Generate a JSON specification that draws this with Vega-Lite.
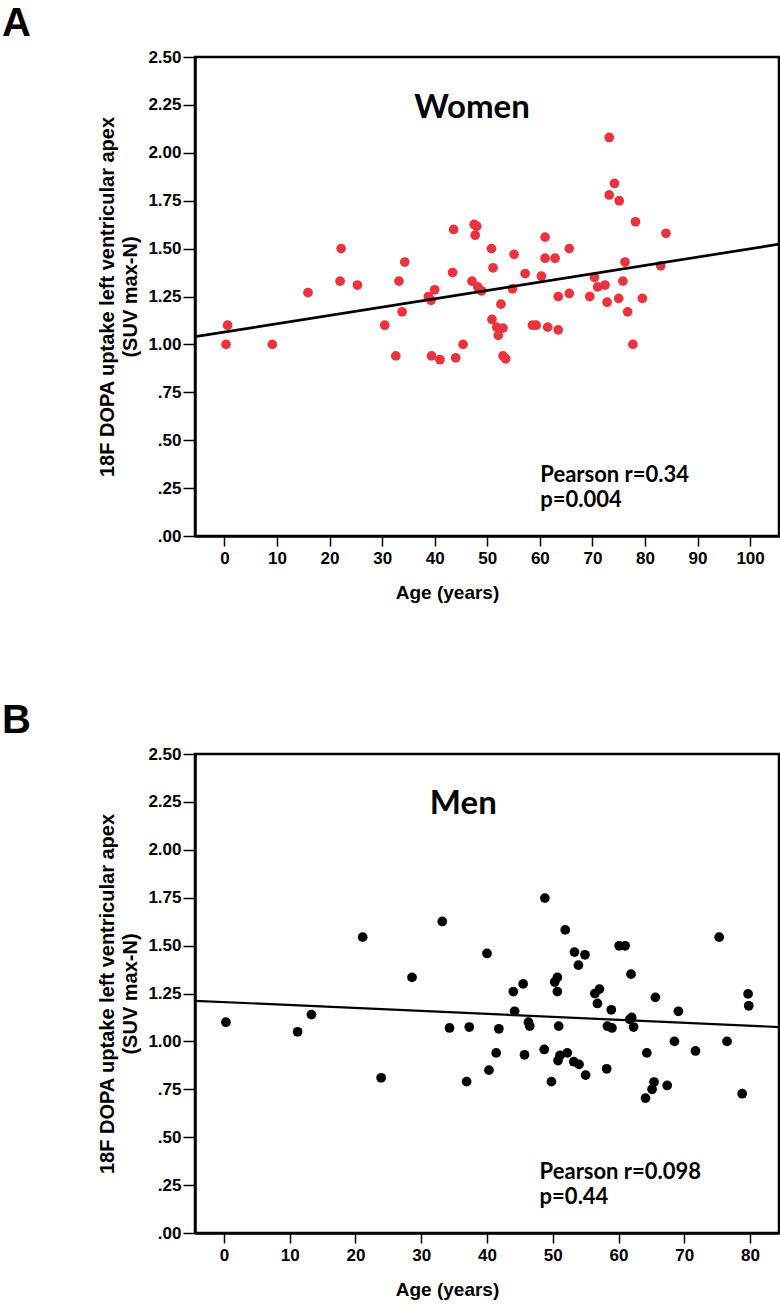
{
  "$schema": "https://vega.github.io/schema/vega-lite/v6.json",
  "padding": {"left": 0, "top": 2, "right": 0, "bottom": 0},
  "background": "white",
  "bounds": "flush",
  "spacing": 218,
  "config": {
    "view": {"stroke": "black", "strokeWidth": 2.5},
    "axis": {"domainColor": "black", "domainWidth": 2.5, "tickColor": "black", "tickWidth": 1.5, "grid": false,
      "labelFont": "Liberation Sans", "labelFontWeight": "bold", "labelFontSize": 17, "labelColor": "black",
      "titleFont": "Liberation Sans", "titleFontWeight": "bold", "titleFontSize": 19, "titleColor": "black"},
    "title": {"font": "Liberation Sans", "fontWeight": "bold", "fontSize": 40, "color": "black", "anchor": "start", "frame": "group", "dx": -193, "baseline": "alphabetic", "offset": 0}
  },
  "datasets": {
    "women": [
      {"age":0.6,"v":1.10},{"age":0.3,"v":1.00},{"age":9.1,"v":1.00},{"age":15.9,"v":1.27},{"age":22.2,"v":1.50},{"age":22.0,"v":1.33},{"age":25.3,"v":1.31},{"age":30.5,"v":1.10},{"age":32.6,"v":0.94},{"age":33.2,"v":1.33},{"age":34.3,"v":1.43},{"age":33.8,"v":1.17},{"age":38.8,"v":1.25},{"age":39.3,"v":1.23},{"age":40.0,"v":1.285},{"age":39.4,"v":0.94},{"age":41.0,"v":0.92},{"age":43.6,"v":1.60},{"age":43.4,"v":1.375},{"age":44.0,"v":0.93},{"age":45.4,"v":1.00},{"age":47.5,"v":1.626},{"age":48.0,"v":1.617},{"age":47.7,"v":1.57},{"age":47.1,"v":1.33},{"age":48.2,"v":1.30},{"age":48.9,"v":1.28},{"age":50.8,"v":1.50},{"age":51.1,"v":1.40},{"age":52.6,"v":1.21},{"age":50.9,"v":1.13},{"age":51.8,"v":1.09},{"age":53.0,"v":1.085},{"age":52.1,"v":1.047},{"age":53.0,"v":0.94},{"age":53.5,"v":0.925},{"age":54.8,"v":1.29},{"age":55.1,"v":1.47},{"age":57.2,"v":1.37},{"age":58.6,"v":1.10},{"age":59.3,"v":1.10},{"age":60.3,"v":1.356},{"age":61.0,"v":1.56},{"age":61.0,"v":1.45},{"age":62.9,"v":1.45},{"age":61.5,"v":1.09},{"age":63.5,"v":1.076},{"age":63.5,"v":1.25},{"age":65.6,"v":1.50},{"age":65.6,"v":1.266},{"age":69.5,"v":1.25},{"age":70.4,"v":1.35},{"age":71.0,"v":1.30},{"age":72.4,"v":1.31},{"age":72.8,"v":1.22},{"age":73.2,"v":2.08},{"age":73.2,"v":1.78},{"age":74.2,"v":1.84},{"age":75.1,"v":1.75},{"age":75.0,"v":1.24},{"age":75.8,"v":1.33},{"age":76.2,"v":1.43},{"age":76.7,"v":1.17},{"age":77.7,"v":1.00},{"age":78.2,"v":1.64},{"age":79.5,"v":1.24},{"age":83.0,"v":1.41},{"age":84.0,"v":1.58}
    ],
    "men": [
      {"age":0.3,"v":1.10},{"age":11.2,"v":1.05},{"age":13.3,"v":1.14},{"age":21.1,"v":1.544},{"age":23.9,"v":0.81},{"age":28.6,"v":1.334},{"age":33.2,"v":1.626},{"age":34.3,"v":1.07},{"age":37.3,"v":1.075},{"age":36.9,"v":0.79},{"age":40.0,"v":1.459},{"age":41.4,"v":0.94},{"age":41.8,"v":1.066},{"age":40.3,"v":0.85},{"age":44.0,"v":1.26},{"age":44.2,"v":1.157},{"age":45.5,"v":1.30},{"age":46.3,"v":1.10},{"age":46.5,"v":1.08},{"age":45.7,"v":0.93},{"age":48.8,"v":1.748},{"age":48.7,"v":0.958},{"age":49.8,"v":0.79},{"age":50.7,"v":1.334},{"age":50.3,"v":1.31},{"age":50.7,"v":1.26},{"age":50.9,"v":1.08},{"age":51.1,"v":0.927},{"age":50.8,"v":0.90},{"age":52.2,"v":0.94},{"age":51.9,"v":1.582},{"age":53.3,"v":1.466},{"age":54.9,"v":1.452},{"age":53.9,"v":1.398},{"age":53.2,"v":0.894},{"age":54.0,"v":0.88},{"age":55.0,"v":0.824},{"age":56.4,"v":1.25},{"age":57.1,"v":1.273},{"age":56.8,"v":1.198},{"age":58.9,"v":1.165},{"age":58.3,"v":1.08},{"age":59.0,"v":1.07},{"age":58.2,"v":0.857},{"age":60.1,"v":1.499},{"age":61.0,"v":1.499},{"age":61.9,"v":1.351},{"age":62.0,"v":1.125},{"age":62.3,"v":1.075},{"age":61.7,"v":1.115},{"age":64.3,"v":0.94},{"age":65.6,"v":1.23},{"age":65.4,"v":0.788},{"age":65.1,"v":0.75},{"age":64.1,"v":0.704},{"age":67.4,"v":0.77},{"age":68.5,"v":1.00},{"age":69.1,"v":1.157},{"age":71.7,"v":0.95},{"age":75.3,"v":1.544},{"age":76.5,"v":1.00},{"age":78.8,"v":0.727},{"age":79.7,"v":1.248},{"age":79.8,"v":1.186}
    ],
    "womenFit": [{"age": -5.6, "v": 1.04}, {"age": 105.5, "v": 1.523}],
    "menFit": [{"age": -4.4, "v": 1.212}, {"age": 84.4, "v": 1.075}],
    "one": [{}]
  },
  "vconcat": [
    {
      "width": 584, "height": 479,
      "title": {"text": "A"},
      "layer": [
        {
          "data": {"name": "women"},
          "mark": {"type": "circle", "size": 95, "color": "#e8343c", "opacity": 1},
          "encoding": {
            "x": {"field": "age", "type": "quantitative", "scale": {"domain": [-5.6, 105.5], "nice": false, "zero": false},
              "axis": {"values": [0,10,20,30,40,50,60,70,80,90,100], "title": "Age (years)", "tickSize": 10, "labelPadding": 4,
                "titleX": 252, "titleY": 62, "titleBaseline": "alphabetic", "titleAlign": "center"}},
            "y": {"field": "v", "type": "quantitative", "scale": {"domain": [0, 2.5], "nice": false},
              "axis": {"values": [0,0.25,0.5,0.75,1,1.25,1.5,1.75,2,2.25,2.5], "tickSize": 12, "labelPadding": 2,
                "labelExpr": "datum.value < 1 ? substring(format(datum.value, '.2f'), 1) : format(datum.value, '.2f')",
                "title": ["18F DOPA uptake left ventricular apex", "(SUV max-N)"], "titleLineHeight": 23, "titleFontSize": 20,
                "titleX": -88, "titleY": 239.5, "titleAngle": 270, "titleAlign": "center", "titleBaseline": "middle"}}
          }
        },
        {
          "data": {"name": "womenFit"},
          "mark": {"type": "line", "color": "black", "strokeWidth": 2.7, "clip": true},
          "encoding": {"x": {"field": "age", "type": "quantitative"}, "y": {"field": "v", "type": "quantitative"}}
        },
        {
          "data": {"name": "one"},
          "mark": {"type": "text", "font": "Lato", "fontWeight": "bold", "fontSize": 33, "align": "center", "baseline": "alphabetic", "color": "black"},
          "encoding": {"x": {"datum": 47.1}, "y": {"datum": 2.18}, "text": {"value": "Women"}}
        },
        {
          "data": {"name": "one"},
          "mark": {"type": "text", "font": "Lato", "fontWeight": "bold", "fontSize": 22, "align": "left", "baseline": "alphabetic", "color": "black"},
          "encoding": {"x": {"datum": 60.1}, "y": {"datum": 0.28}, "text": {"value": "Pearson r=0.34"}}
        },
        {
          "data": {"name": "one"},
          "mark": {"type": "text", "font": "Lato", "fontWeight": "bold", "fontSize": 22, "align": "left", "baseline": "alphabetic", "color": "black"},
          "encoding": {"x": {"datum": 60.1}, "y": {"datum": 0.15}, "text": {"value": "p=0.004"}}
        }
      ]
    },
    {
      "width": 584, "height": 479,
      "title": {"text": "B"},
      "layer": [
        {
          "data": {"name": "men"},
          "mark": {"type": "circle", "size": 95, "color": "black", "opacity": 1},
          "encoding": {
            "x": {"field": "age", "type": "quantitative", "scale": {"domain": [-4.4, 84.4], "nice": false, "zero": false},
              "axis": {"values": [0,10,20,30,40,50,60,70,80], "title": "Age (years)", "tickSize": 10, "labelPadding": 4,
                "titleX": 252, "titleY": 62, "titleBaseline": "alphabetic", "titleAlign": "center"}},
            "y": {"field": "v", "type": "quantitative", "scale": {"domain": [0, 2.5], "nice": false},
              "axis": {"values": [0,0.25,0.5,0.75,1,1.25,1.5,1.75,2,2.25,2.5], "tickSize": 12, "labelPadding": 2,
                "labelExpr": "datum.value < 1 ? substring(format(datum.value, '.2f'), 1) : format(datum.value, '.2f')",
                "title": ["18F DOPA uptake left ventricular apex", "(SUV max-N)"], "titleLineHeight": 23, "titleFontSize": 20,
                "titleX": -88, "titleY": 239.5, "titleAngle": 270, "titleAlign": "center", "titleBaseline": "middle"}}
          }
        },
        {
          "data": {"name": "menFit"},
          "mark": {"type": "line", "color": "black", "strokeWidth": 2.2, "clip": true},
          "encoding": {"x": {"field": "age", "type": "quantitative"}, "y": {"field": "v", "type": "quantitative"}}
        },
        {
          "data": {"name": "one"},
          "mark": {"type": "text", "font": "Lato", "fontWeight": "bold", "fontSize": 33, "align": "center", "baseline": "alphabetic", "color": "black"},
          "encoding": {"x": {"datum": 36.4}, "y": {"datum": 2.186}, "text": {"value": "Men"}}
        },
        {
          "data": {"name": "one"},
          "mark": {"type": "text", "font": "Lato", "fontWeight": "bold", "fontSize": 22, "align": "left", "baseline": "alphabetic", "color": "black"},
          "encoding": {"x": {"datum": 48.0}, "y": {"datum": 0.28}, "text": {"value": "Pearson r=0.098"}}
        },
        {
          "data": {"name": "one"},
          "mark": {"type": "text", "font": "Lato", "fontWeight": "bold", "fontSize": 22, "align": "left", "baseline": "alphabetic", "color": "black"},
          "encoding": {"x": {"datum": 48.0}, "y": {"datum": 0.15}, "text": {"value": "p=0.44"}}
        }
      ]
    }
  ]
}
